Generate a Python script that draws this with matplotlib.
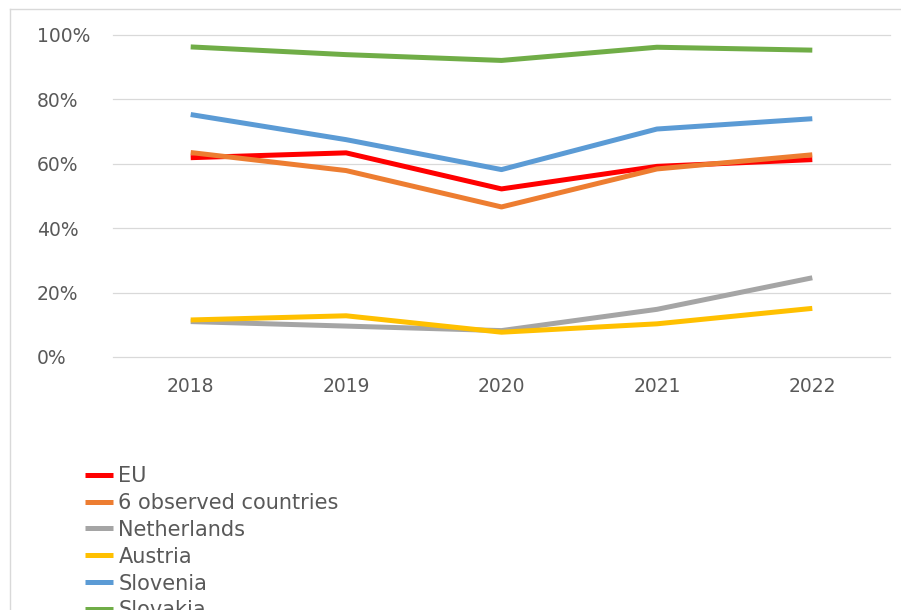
import matplotlib
matplotlib.use("Agg")
import matplotlib.pyplot as plt
from matplotlib.lines import Line2D
from matplotlib.ticker import FuncFormatter

plt.rcParams["font.family"] = ["DejaVu Sans"]

# Values (share in %)
years = ["2018", "2019", "2020", "2021", "2022"]
eu = [61.9, 63.4, 52.2, 59.2, 61.3]
observed6 = [63.5, 57.9, 46.6, 58.4, 62.8]
netherlands = [11.0, 9.6, 8.2, 14.8, 24.6]
austria = [11.5, 12.8, 7.7, 10.3, 15.1]
slovenia = [75.3, 67.5, 58.2, 70.8, 74.0]
slovakia = [96.3, 93.9, 92.1, 96.2, 95.3]

series_names = ["EU", "6 observed countries", "Netherlands", "Austria", "Slovenia", "Slovakia"]
series_values = [eu, observed6, netherlands, austria, slovenia, slovakia]
series_colors = ["#FF0000", "#ED7D31", "#A5A5A5", "#FFC000", "#5B9BD5", "#70AD47"]

W, H = 901, 610
fig = plt.figure(figsize=(W / 100, H / 100), dpi=100)

# outer chart border: only the left and top edges fall inside the crop
border_x = 9.5 / W
border_y = 1 - 8.5 / H
fig.add_artist(Line2D([border_x, border_x], [0, border_y], transform=fig.transFigure,
                      color="#D9D9D9", linewidth=1.0))
fig.add_artist(Line2D([border_x, 1], [border_y, border_y], transform=fig.transFigure,
                      color="#D9D9D9", linewidth=1.0))

ax = fig.add_axes([113 / W, (H - 357) / H, 777 / W, 322 / H])
x = list(range(len(years)))
for name, vals, col in zip(series_names, series_values, series_colors):
    ax.plot(x, vals, color=col, linewidth=3.6, label=name, solid_capstyle="butt")

ax.set_xlim(-0.5, len(years) - 0.5)
ax.set_ylim(0, 100)
ax.set_yticks(range(0, 101, 20))
ax.yaxis.set_major_formatter(FuncFormatter(lambda v, p: f"{v:.0f}%"))
ax.set_xticks(x)
ax.set_xticklabels(years)
ax.grid(axis="y", color="#D9D9D9", linewidth=0.9)
for gl in ax.get_ygridlines():
    gl.set_clip_on(False)
ax.set_axisbelow(True)
for s in ax.spines.values():
    s.set_visible(False)
ax.tick_params(axis="both", length=0, labelsize=13.5, labelcolor="#595959")
ax.tick_params(axis="y", pad=54.7)
ax.tick_params(axis="x", pad=14.5)
for lab in ax.get_yticklabels():
    lab.set_horizontalalignment("left")

fig.legend(loc="upper left", bbox_to_anchor=(85 / W, 1 - 466 / H),
           frameon=False, fontsize=15, labelcolor="#595959",
           handlelength=1.35, handletextpad=0.25, labelspacing=0.33,
           borderpad=0, borderaxespad=0)

fig.savefig("out.png", dpi=100)
